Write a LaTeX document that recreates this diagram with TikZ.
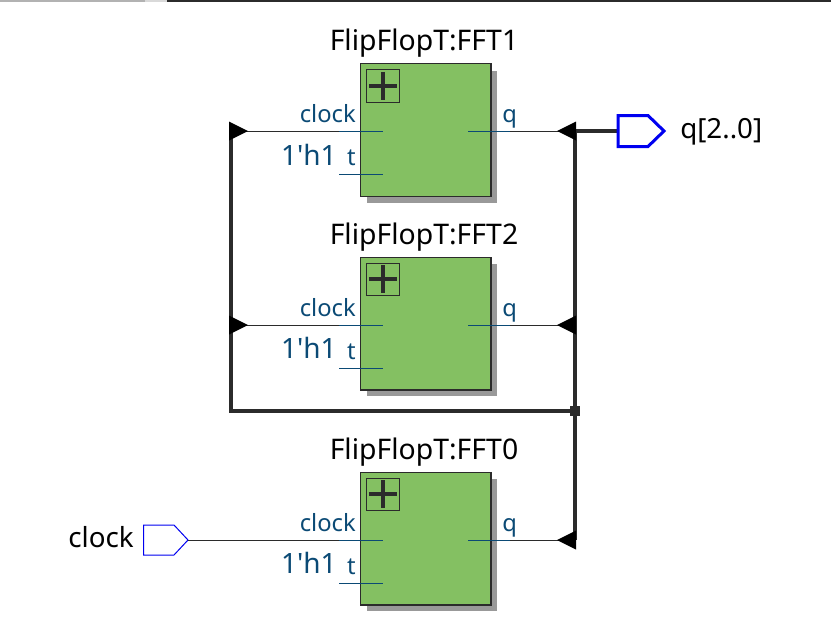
\documentclass[tikz,border=0pt]{standalone}
\usepackage{fontspec}
\usetikzlibrary{calc}
\setmainfont{Noto Sans}
\newfontfamily\rawfont{Noto Sans}
\definecolor{fillg}{HTML}{84C062}
\definecolor{shad}{HTML}{999999}
\definecolor{ink}{HTML}{2B2B2B}
\definecolor{lab}{HTML}{0B4A75}
\definecolor{portb}{HTML}{0000F0}
\newcommand{\pxfont}[1]{\fontsize{#1}{#1}\selectfont}
\tikzset{
  titletext/.style={anchor=base,inner sep=0,text=black,font=\pxfont{21.3}},
  pintext/.style={anchor=base east,inner sep=0,text=lab,font=\pxfont{17.8}},
  constext/.style={anchor=base east,inner sep=0,text=lab,font=\rawfont\pxfont{21}},
  porttext/.style={inner sep=0,text=black,font=\pxfont{20.8}},
  ffbox/.style={draw=ink,line width=1pt,fill=fillg,minimum width=98pt,minimum height=99.5pt,inner sep=0,anchor=north west},
  shadowbox/.style={fill=shad,draw=none,minimum width=97.5pt,minimum height=99pt,inner sep=0,anchor=north west},
  plusbox/.style={draw=ink,line width=.75pt,minimum width=24.5pt,minimum height=24.5pt,inner sep=0,anchor=north west},
  bus/.style={draw=ink,line width=3pt},
  thin wire/.style={draw=ink,line width=.75pt},
  pin/.style={draw=lab,line width=.75pt},
  tri/.style={fill=black,draw=none},
  junction/.style={fill=ink,draw=none,minimum size=7.5pt,inner sep=0},
}
\begin{document}
\begin{tikzpicture}[x=.75pt,y=-.75pt]
\useasboundingbox (0,0) rectangle (831,625);
% top edge
\fill[gray!60] (0,0) rectangle (145,2);
\fill[gray!30] (145,0) rectangle (167,2);
\fill[ink] (167,0) rectangle (831,2);
% blocks: name, top y, wire y, t y
\foreach \n/\top/\w/\ty/\lbl in {A/63/131/174.5/FFT1,B/256.5/325/368/FFT2,C/471.5/540/583/FFT0}{
  \node[shadowbox] at (367,\top+7.5) (s\n) {};
  \node[ffbox] at (359.5,\top) (b\n) {};
  \node[plusbox] at (366,\top+6) (p\n) {};
  \draw[ink,line width=3pt] ($(p\n.center)+(-14,0)$) -- ($(p\n.center)+(14,0)$);
  \draw[ink,line width=3pt] ($(p\n.center)+(0,-14)$) -- ($(p\n.center)+(0,14)$);
  \node[titletext] at (424,\top-12.5) (title\n) {FlipFlopT:\lbl};
  \coordinate (ci\n) at (383,\w);
  \coordinate (cs\n) at (339,\w);
  \coordinate (qi\n) at (468,\w);
  \coordinate (qs\n) at (510,\w);
  \coordinate (ti\n) at (383,\ty);
  \coordinate (ts\n) at (339,\ty);
  \node[pintext] at (356,\w-8.5) (cl\n) {clock};
  \node[pintext] at (356,\ty-9) (tl\n) {t};
  \node[constext] at (337,\ty-9.5) (k\n) {1'h1};
  \node[pintext,anchor=base west] at (502,\w-8.5) (ql\n) {q};
}
% bus corners and junction
\coordinate (lt) at (231,131);
\coordinate (lm) at (231,325);
\coordinate (lb) at (231,410.5);
\coordinate (rt) at (575,131);
\coordinate (rm) at (575,325);
\coordinate (rc) at (575,540);
\node[junction] (jn) at (575,410.5) {};
% thick buses
\draw[bus] (lt) -- (lb) -- (jn.center);
\draw[bus] (rt) -- (rc);
% thin wires
\draw[thin wire] (lt) -- (csA);
\draw[thin wire] (lm) -- (csB);
\draw[thin wire] (qsA) -- (rt);
\draw[thin wire] (qsB) -- (rm);
\draw[thin wire] (qsC) -- (rc);
% pins
\foreach \n in {A,B,C}{
  \draw[pin] (cs\n) -- (ci\n);
  \draw[pin] (ts\n) -- (ti\n);
  \draw[pin] (qi\n) -- (qs\n);
}
% ports
\coordinate (qp) at (618,131);
\coordinate (cp) at (188,540);
\draw[bus] (rt) -- (qp);
\draw[portb,line width=2.25pt,fill=white,line join=miter] (qp) ++(0,-15.5) -- ++(30,0) -- (664,131) -- (648,146.5) -- (618,146.5) -- cycle;
\draw[portb,line width=.75pt,fill=white] (143.5,525) -- (174,525) -- (cp) -- (174,555) -- (143.5,555) -- cycle;
\draw[thin wire] (cp) -- (csC);
\node[porttext,anchor=base west] at (680,138.5) (qt) {q[2..0]};
\node[porttext,anchor=base east] at (134,547.5) (ct) {clock};
% arrow triangles
\foreach \x/\y in {229/131,229/325}{\fill[tri] (\x,\y-9.5) -- (\x+19,\y) -- (\x,\y+9.5) -- cycle;}
\foreach \x/\y in {576/131,576/325,576/540}{\fill[tri] (\x,\y-9.5) -- (\x-19,\y) -- (\x,\y+9.5) -- cycle;}
\end{tikzpicture}
\end{document}
